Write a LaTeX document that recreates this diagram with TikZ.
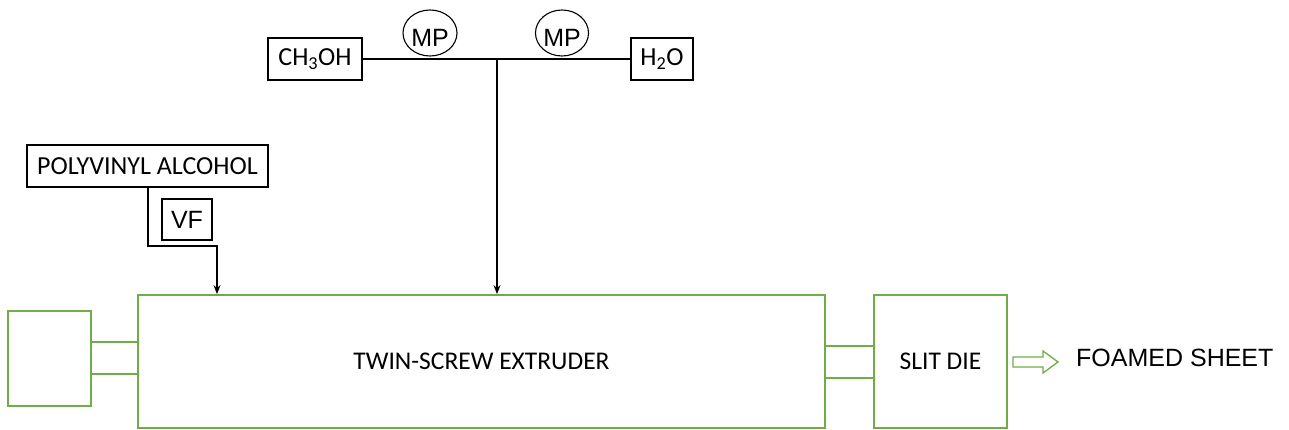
\documentclass[tikz,border=0pt]{standalone}
\usepackage{fontspec}
\setmainfont{Carlito}
\newfontfamily\arialf{Liberation Sans}
\usetikzlibrary{arrows.meta,shapes.geometric}
\definecolor{pgreen}{RGB}{112,173,71}
\begin{document}
\begin{tikzpicture}[x=1pt,y=-1pt,
  gbox/.style={draw=pgreen,line width=1.8pt,inner sep=0pt},
  kbox/.style={draw=black,line width=1.3pt,inner sep=0pt,font=\fontsize{26}{30}\selectfont},
  pump/.style={draw=black,line width=1.1pt,ellipse,inner sep=0pt,text height=27pt,text depth=0pt,font=\arialf\fontsize{25}{28}\selectfont},
  feed/.style={line width=1.3pt},
  feedarr/.style={line width=1.3pt,-{Stealth[length=9pt,width=7pt]}}]
\useasboundingbox (0,0) rectangle (1289,430);
% green equipment
\node[gbox,minimum width=687pt,minimum height=133pt,font=\fontsize{25.5}{28}\selectfont] (ext) at (481.5,361.5) {TWIN-SCREW EXTRUDER};
\node[gbox,minimum width=83pt,minimum height=95pt] (motor) at (49.5,358.5) {};
\node[gbox,minimum width=47pt,minimum height=32pt] (lcoup) at (114.5,358) {};
\node[gbox,minimum width=133pt,minimum height=133pt,font=\fontsize{25.5}{28}\selectfont] (die) at (940.5,361.5) {SLIT DIE};
\node[gbox,minimum width=49pt,minimum height=32pt] (rcoup) at (849.5,362) {};
% black feed boxes
\node[kbox,minimum width=241pt,minimum height=42pt] (pva) at (147.5,166) {POLYVINYL ALCOHOL};
\node[kbox,minimum width=50pt,minimum height=41pt,font=\arialf\fontsize{25}{28}\selectfont] (vf) at (187,219.5) {VF};
\node[kbox,minimum width=94pt,minimum height=42pt] (meoh) at (315,59) {CH\textsubscript{3}OH};
\node[kbox,minimum width=62pt,minimum height=42pt] (water) at (662,59) {H\textsubscript{2}O};
\node[pump,minimum width=54pt,minimum height=46pt] (mp1) at (430,33) {MP};
\node[pump,minimum width=52pt,minimum height=46pt] (mp2) at (562,33) {MP};
% connectors
\coordinate (junc) at (497,59);
\coordinate (pvadown) at (148,246);
\coordinate (pvaright) at (217,246);
\draw[feed] (meoh.east) -- (water.west);
\draw[feedarr] (junc) -- (junc |- ext.north);
\draw[feedarr] (pvadown |- pva.south) -- (pvadown) -- (pvaright) -- (pvaright |- ext.north);
% hollow output arrow
\coordinate (oa) at (1013,357);
\draw[draw=pgreen,line width=1.3pt,fill=white]
  (oa) -- ++(30,0) -- ++(0,-6) -- ++(15,11) -- ++(-15,11) -- ++(0,-6) -- ++(-30,0) -- cycle;
\node[anchor=west,inner sep=0pt,font=\arialf\fontsize{25}{28}\selectfont] (out) at (1076,358) {FOAMED SHEET};
\end{tikzpicture}
\end{document}
